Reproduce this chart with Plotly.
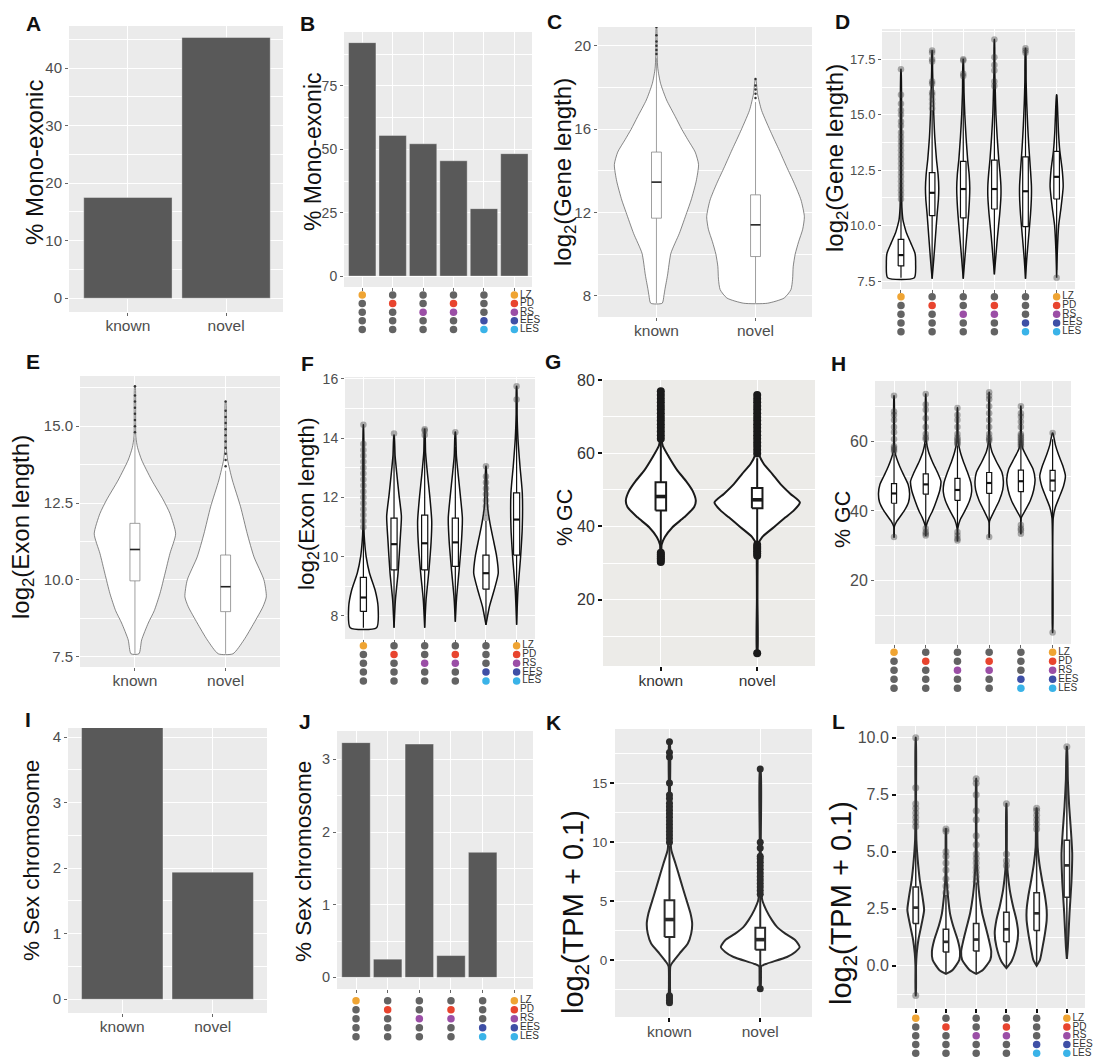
import plotly.graph_objects as go

FIG_W, FIG_H = 1096, 1059
# the photographed page shows the figure area from y=8 to the bottom edge;
# map target pixel positions through this so marks land where intended
Y_OFF = 8.0
Y_SCALE = (FIG_H - Y_OFF) / FIG_H
FONT = "Liberation Sans, Arial, Helvetica, sans-serif"
BG = "#EBEBEB"
BAR = "#595959"
TXT = "#4D4D4D"

# ---------------- data ----------------
groups2 = ["known", "novel"]
stage_labels = ["LZ", "PD", "RS", "EES", "LES"]
stage_colors = ["#EFA433", "#E8442E", "#9B4EA6", "#3E4FA6", "#3AB3E8"]
dot_gray = "#636363"
combo_stages = [[0], [1], [2], [1, 2], [3, 4], [0, 1, 2, 3, 4]]

A_mono = [17.5, 45.3]
B_mono = [92.1, 55.5, 52.2, 45.5, 26.6, 48.3]
I_sex = [4.15, 1.94]
J_sex = [3.23, 0.25, 3.21, 0.30, 1.72, 0.0]

# C: log2(Gene length) known / novel
C_vy = [[7.65, 8.0, 8.3, 9.0, 10.05, 11.0, 12.0, 12.6, 13.5, 14.3, 14.9, 15.5, 16.0, 16.6, 17.4, 18.2, 18.9, 19.5, 20.9],
        [7.65, 7.9, 8.3, 8.8, 9.4, 10.0, 10.6, 11.2, 11.8, 12.6, 13.4, 14.2, 15.0, 15.8, 16.9, 17.7, 18.4]]
C_vw = [[0.058, 0.075, 0.085, 0.112, 0.146, 0.231, 0.306, 0.35, 0.401, 0.425, 0.391, 0.316, 0.255, 0.19, 0.102, 0.041, 0.014, 0.007, 0.002],
        [0.119, 0.289, 0.357, 0.374, 0.38, 0.40, 0.435, 0.476, 0.493, 0.459, 0.391, 0.313, 0.238, 0.16, 0.061, 0.02, 0.003]]
C_q1 = [11.73, 9.89]
C_med = [13.46, 11.41]
C_q3 = [14.9, 12.85]
C_lo = [7.65, 7.65]
C_hi = [19.4, 17.3]
C_out = [[19.6, 19.8, 20.0, 20.2, 20.5, 20.9], [17.5, 17.7, 17.9, 18.1, 18.4]]

# D: log2(Gene length) by stage combination
D_vy = [[7.65, 8.3, 8.75, 9.2, 9.65, 10.0, 10.25, 10.8, 12.0, 17.05],
        [7.6, 8.5, 9.5, 10.5, 11.2, 11.7, 12.3, 13.0, 14.0, 15.0, 16.0, 17.0, 17.9],
        [7.6, 8.5, 9.5, 10.5, 11.2, 11.7, 12.3, 13.0, 14.0, 15.0, 16.0, 17.5],
        [7.8, 8.5, 9.5, 10.5, 11.3, 11.8, 12.4, 13.0, 14.0, 15.0, 16.0, 17.0, 18.4],
        [7.6, 8.5, 9.5, 10.5, 11.3, 11.8, 12.5, 13.5, 14.5, 15.5, 16.5, 18.0],
        [7.65, 8.75, 10.0, 10.8, 11.75, 12.5, 13.4, 14.2, 14.9, 15.9]]
D_vw = [[0.43, 0.47, 0.45, 0.32, 0.18, 0.107, 0.064, 0.03, 0.015, 0.004],
        [0.0, 0.053, 0.107, 0.16, 0.203, 0.214, 0.192, 0.139, 0.085, 0.053, 0.032, 0.015, 0.004],
        [0.0, 0.05, 0.11, 0.17, 0.2, 0.21, 0.19, 0.14, 0.09, 0.05, 0.025, 0.004],
        [0.0, 0.04, 0.1, 0.17, 0.21, 0.21, 0.18, 0.14, 0.09, 0.05, 0.03, 0.012, 0.004],
        [0.0, 0.04, 0.1, 0.16, 0.19, 0.19, 0.16, 0.11, 0.07, 0.04, 0.02, 0.004],
        [0.0, 0.02, 0.065, 0.14, 0.21, 0.18, 0.1, 0.06, 0.04, 0.004]]
D_q1 = [8.18, 10.45, 10.35, 10.75, 9.95, 11.2]
D_med = [8.67, 11.48, 11.65, 11.65, 11.55, 12.2]
D_q3 = [9.38, 12.39, 12.9, 12.95, 13.1, 13.35]
D_lo = [7.65, 7.6, 7.6, 7.8, 7.6, 8.0]
D_hi = [11.0, 15.2, 16.7, 16.2, 17.8, 15.9]
D_out = [[11.2, 11.4, 11.6, 11.8, 12.0, 12.2, 12.4, 12.6, 12.8, 13.0, 13.2, 13.4, 13.6, 13.8, 14.0, 14.2, 14.5, 14.7, 15.0, 15.2, 15.5, 15.9, 17.05],
         [15.3, 15.5, 15.7, 15.9, 16.0, 16.4, 16.5, 17.4, 17.5, 17.8, 17.9],
         [16.75, 16.85, 17.45, 17.5],
         [16.3, 16.5, 17.0, 17.25, 17.6, 18.4],
         [17.8, 17.9, 18.0],
         [7.65]]

# E: log2(Exon length) known / novel
E_vy = [[7.6, 8.05, 8.6, 9.0, 9.56, 10.2, 10.86, 11.5, 12.16, 12.6, 13.25, 13.9, 14.3, 14.65, 16.3],
        [7.6, 8.05, 8.6, 9.13, 9.45, 10.0, 10.75, 11.5, 12.38, 13.25, 13.9, 14.3, 15.8]]
E_vw = [[0.044, 0.074, 0.147, 0.213, 0.276, 0.331, 0.386, 0.449, 0.386, 0.313, 0.184, 0.074, 0.029, 0.01, 0.003],
        [0.081, 0.202, 0.313, 0.412, 0.449, 0.423, 0.313, 0.239, 0.165, 0.074, 0.022, 0.008, 0.003]]
E_q1 = [9.97, 8.97]
E_med = [10.99, 9.78]
E_q3 = [11.84, 10.81]
E_lo = [7.6, 7.6]
E_hi = [14.6, 13.55]
E_out = [[14.8, 15.0, 15.2, 15.4, 15.6, 15.8, 16.0, 16.3],
         [13.7, 13.9, 14.1, 14.3, 14.5, 14.7, 14.9, 15.1, 15.3, 15.5, 15.8]]

# F: log2(Exon length) by stage combination
F_vy = [[7.6, 8.3, 8.88, 9.44, 10.0, 10.5, 11.0, 14.45],
        [7.6, 8.54, 9.44, 10.57, 11.36, 12.1, 12.8, 13.4, 14.1],
        [7.6, 8.54, 9.44, 10.5, 11.2, 12.0, 12.8, 13.5, 14.3],
        [7.8, 8.6, 9.5, 10.5, 11.3, 12.0, 12.8, 13.4, 14.2],
        [7.7, 7.87, 8.3, 8.88, 9.44, 10.0, 10.57, 11.13, 11.7, 13.05],
        [7.7, 8.88, 10.0, 11.0, 12.15, 13.05, 13.95, 14.8, 15.75]]
F_vw = [[0.43, 0.48, 0.38, 0.2, 0.09, 0.04, 0.015, 0.004],
        [0.0, 0.045, 0.13, 0.2, 0.24, 0.16, 0.09, 0.035, 0.005],
        [0.0, 0.045, 0.13, 0.21, 0.23, 0.17, 0.09, 0.03, 0.005],
        [0.0, 0.04, 0.12, 0.2, 0.23, 0.17, 0.09, 0.035, 0.005],
        [0.0, 0.03, 0.11, 0.27, 0.4, 0.35, 0.24, 0.13, 0.05, 0.005],
        [0.0, 0.045, 0.13, 0.185, 0.185, 0.11, 0.045, 0.015, 0.005]]
F_q1 = [8.15, 9.55, 9.55, 9.67, 8.9, 10.05]
F_med = [8.62, 10.42, 10.45, 10.48, 9.44, 11.25]
F_q3 = [9.3, 11.3, 11.4, 11.3, 10.05, 12.15]
F_lo = [7.6, 7.6, 7.6, 7.8, 7.7, 7.7]
F_hi = [10.9, 13.9, 14.0, 13.7, 11.2, 15.2]
F_out = [[11.0, 11.2, 11.4, 11.6, 11.8, 12.0, 12.2, 12.4, 12.6, 12.8, 13.0, 13.2, 13.4, 13.6, 13.8, 14.45],
         [14.15], [14.1, 14.25, 14.3], [14.2],
         [11.3, 11.5, 11.7, 11.9, 12.1, 12.3, 12.5, 12.7, 13.05],
         [15.3, 15.75]]

# G: % GC known / novel
G_vy = [[30.5, 33.0, 35.0, 37.1, 39.8, 42.5, 45.3, 47.1, 49.8, 52.5, 55.3, 58.9, 62.1, 64.0, 70.0, 77.0],
        [5.3, 20.0, 33.0, 35.0, 37.1, 39.8, 42.5, 44.4, 46.6, 48.9, 51.6, 54.4, 57.1, 59.8, 61.0, 68.0, 76.0]]
G_vw = [[0.004, 0.006, 0.008, 0.042, 0.121, 0.242, 0.346, 0.363, 0.329, 0.26, 0.173, 0.087, 0.02, 0.008, 0.005, 0.003],
        [0.003, 0.003, 0.005, 0.008, 0.052, 0.173, 0.294, 0.381, 0.443, 0.346, 0.242, 0.156, 0.069, 0.017, 0.008, 0.005, 0.003]]
G_q1 = [44.4, 45.0]
G_med = [48.2, 47.3]
G_q3 = [52.1, 50.5]
G_lo = [33.5, 35.5]
G_hi = [63.5, 58.7]
G_out = [[30.3, 30.8, 31.3, 31.8, 32.3, 32.8, 64, 65, 66, 67, 68, 69, 70, 71, 72, 73, 74, 75, 76, 77],
         [5.3, 32.0, 32.6, 33.2, 33.8, 34.4, 35.0, 60, 61, 62, 63, 64, 65, 66, 67, 68, 69, 70, 71, 72, 73, 74, 75, 76]]

# H: % GC by stage combination
H_vy = [[32.5, 35.5, 37, 40, 42.5, 45, 47.5, 50, 52.5, 55, 57, 60, 73],
        [33, 35.5, 38, 40, 43, 46, 48.5, 51, 54, 57, 60, 73.5],
        [31.5, 35, 37.5, 40, 43, 45.5, 48, 51, 54, 57, 60, 69.5],
        [32.5, 37, 40, 43, 46, 48.5, 51, 54, 57, 60, 74],
        [33.5, 38, 40, 43, 46, 49, 52, 55, 58, 61, 70],
        [5.2, 30, 38, 41, 44, 47, 50, 53, 56, 59, 62.3]]
H_vw = [[0.004, 0.01, 0.085, 0.319, 0.457, 0.49, 0.447, 0.319, 0.191, 0.085, 0.025, 0.01, 0.004],
        [0.004, 0.01, 0.106, 0.213, 0.34, 0.447, 0.479, 0.372, 0.213, 0.085, 0.021, 0.004],
        [0.004, 0.01, 0.085, 0.234, 0.383, 0.447, 0.426, 0.319, 0.191, 0.085, 0.021, 0.004],
        [0.004, 0.01, 0.16, 0.319, 0.426, 0.447, 0.404, 0.234, 0.085, 0.021, 0.004],
        [0.004, 0.01, 0.128, 0.298, 0.404, 0.447, 0.383, 0.213, 0.053, 0.015, 0.004],
        [0.004, 0.005, 0.02, 0.085, 0.213, 0.34, 0.404, 0.319, 0.191, 0.085, 0.008]]
H_q1 = [42.2, 44.8, 43.0, 45.0, 45.5, 45.7]
H_med = [45.0, 47.6, 46.0, 48.0, 48.5, 48.7]
H_q3 = [47.8, 50.6, 49.3, 51.0, 51.7, 51.6]
H_lo = [35.5, 36.0, 34.5, 37.0, 37.0, 38.0]
H_hi = [56.2, 59.3, 58.7, 59.5, 60.5, 60.5]
H_out = [[32.5, 57, 57.5, 58, 58.5, 60.5, 62.5, 64, 66, 67.5, 68.5, 73],
         [33, 33.5, 34, 35, 60.5, 61, 62, 64, 66.5, 69, 70.5, 73.5],
         [31.5, 32, 33, 34, 59, 59.5, 60, 60.5, 61, 62, 64, 66, 67.5, 69.5],
         [32.5, 60, 60.5, 61, 62, 64, 66, 68, 70, 72, 73, 74],
         [33.5, 34.5, 35, 36, 58.5, 59, 59.5, 60, 60.5, 61, 61.5, 62, 64, 65.5, 67, 68, 70],
         [5.2, 62.3]]

# K: log2(TPM + 0.1) known / novel
K_vy = [[-3.6, -2.0, -0.5, -0.14, 0.57, 1.42, 2.26, 3.11, 3.96, 5.38, 6.79, 8.2, 9.34, 10.5, 14.0, 18.5],
        [-2.4, -1.0, -0.5, -0.28, 0.28, 0.71, 1.13, 1.7, 2.26, 2.83, 3.4, 4.25, 5.1, 6.0, 10.0, 16.2]]
K_vw = [[0.004, 0.006, 0.01, 0.037, 0.11, 0.202, 0.239, 0.25, 0.232, 0.176, 0.121, 0.066, 0.02, 0.01, 0.006, 0.004],
        [0.004, 0.008, 0.012, 0.074, 0.294, 0.386, 0.434, 0.386, 0.276, 0.184, 0.129, 0.066, 0.022, 0.01, 0.006, 0.004]]
K_q1 = [1.98, 0.9]
K_med = [3.45, 1.75]
K_q3 = [5.09, 2.75]
K_lo = [-2.7, -1.5]
K_hi = [9.7, 5.5]
K_out = [[-3.0, -3.2, -3.4, -3.6, 10.0, 10.3, 10.6, 10.9, 11.2, 11.5, 11.8, 12.1, 12.4, 12.7, 13.0, 13.3, 13.7, 14.0, 15.0, 17.2, 17.6, 18.5],
         [-2.4, 5.6, 5.9, 6.2, 6.5, 6.8, 7.1, 7.4, 7.7, 8.0, 8.3, 8.6, 8.8, 9.5, 10.0, 16.2]]

# L: log2(TPM + 0.1) by stage combination
L_vy = [[-1.3, 0.0, 0.55, 1.14, 2.0, 2.45, 3.04, 3.77, 4.64, 5.5, 7.0, 10.0],
        [-0.35, -0.18, 0.26, 0.63, 1.14, 1.72, 2.3, 3.04, 3.77, 4.5, 6.0],
        [-0.35, -0.18, 0.26, 0.63, 1.14, 1.72, 2.3, 3.04, 3.77, 4.5, 6.0, 8.2],
        [-0.1, 0.19, 0.85, 1.43, 2.0, 2.6, 3.33, 4.06, 4.6, 7.1],
        [0.0, 0.26, 0.85, 1.43, 2.0, 2.45, 3.04, 3.77, 4.5, 5.2, 6.9],
        [0.3, 0.85, 2.3, 3.77, 4.93, 5.96, 6.98, 8.15, 9.6]]
L_vw = [[0.004, 0.01, 0.033, 0.088, 0.221, 0.277, 0.221, 0.133, 0.066, 0.022, 0.01, 0.004],
        [0.0, 0.221, 0.442, 0.465, 0.387, 0.243, 0.133, 0.066, 0.022, 0.01, 0.004],
        [0.0, 0.221, 0.465, 0.498, 0.42, 0.31, 0.2, 0.11, 0.055, 0.022, 0.01, 0.004],
        [0.0, 0.166, 0.332, 0.387, 0.332, 0.221, 0.11, 0.044, 0.015, 0.004],
        [0.0, 0.11, 0.2, 0.277, 0.332, 0.332, 0.277, 0.177, 0.088, 0.033, 0.006],
        [0.0, 0.033, 0.088, 0.155, 0.177, 0.133, 0.077, 0.033, 0.005]]
L_q1 = [1.85, 0.6, 0.65, 1.05, 1.55, 3.0]
L_med = [2.55, 1.05, 1.15, 1.6, 2.3, 4.4]
L_q3 = [3.45, 1.6, 1.85, 2.35, 3.2, 5.5]
L_lo = [-0.5, -0.35, -0.35, -0.1, 0.0, 0.3]
L_hi = [5.85, 3.1, 3.65, 4.3, 5.67, 9.0]
L_out = [[-1.3, 6.1, 6.3, 6.5, 6.7, 6.9, 7.1, 7.8, 10.0],
         [3.2, 3.5, 3.8, 4.2, 4.5, 4.8, 5.0, 5.9, 6.0],
         [3.7, 3.9, 4.1, 4.3, 4.5, 4.7, 4.9, 5.3, 5.7, 6.4, 6.8, 7.5, 8.0, 8.2],
         [4.4, 4.6, 4.9, 7.1],
         [6.0, 6.2, 6.4, 6.6, 6.8, 6.9],
         [9.6]]

# ---------------- figure helpers ----------------
fig = go.Figure()
_axn = [0]


def _clamp(v):
    return min(1.0, max(0.0, v))


def fy(y):
    """target page pixel row -> figure pixel row"""
    return (y - Y_OFF) / Y_SCALE


def px_dom_x(a, b):
    return [_clamp(a / FIG_W), _clamp(b / FIG_W)]


def px_dom_y(top, bottom):
    return [_clamp(1 - fy(bottom) / FIG_H), _clamp(1 - fy(top) / FIG_H)]


def make_axes(box, xrange, yrange, ncat, xlabels, ydtick, yminor, ytickfmt="",
              tickfont=14, xtickfont=15, tickcolor="#666", ticklen=3, tickwidth=1,
              labelcolor=TXT, bg=BG, show=True):
    _axn[0] += 1
    n = _axn[0]
    xa = "xaxis" if n == 1 else f"xaxis{n}"
    ya = "yaxis" if n == 1 else f"yaxis{n}"
    xr = "x" if n == 1 else f"x{n}"
    yr = "y" if n == 1 else f"y{n}"
    x0, y0, x1, y1 = box
    if not show:
        fig.update_layout(**{
            xa: dict(domain=px_dom_x(x0, x1), range=xrange, anchor=yr, visible=False, fixedrange=True),
            ya: dict(domain=px_dom_y(y0, y1), range=yrange, anchor=xr, visible=False, fixedrange=True),
        })
        return xr, yr
    xdict = dict(domain=px_dom_x(x0, x1), range=xrange, anchor=yr,
                 tickmode="array", tickvals=list(range(ncat)),
                 showgrid=True, gridcolor="white", gridwidth=1.1, zeroline=False,
                 ticks="outside", ticklen=ticklen, tickwidth=tickwidth, tickcolor=tickcolor,
                 showline=False, fixedrange=True)
    if xlabels:
        xdict.update(ticktext=xlabels, showticklabels=True, ticklabelstandoff=-4,
                     tickfont=dict(family=FONT, size=xtickfont, color=labelcolor))
    else:
        xdict.update(showticklabels=False)
    fig.update_layout(**{
        xa: xdict,
        ya: dict(domain=px_dom_y(y0, y1), range=yrange, anchor=xr,
                 tick0=0, dtick=ydtick, tickformat=ytickfmt,
                 showgrid=True, gridcolor="white", gridwidth=1.1, zeroline=False,
                 minor=dict(tick0=0, dtick=yminor, showgrid=True, gridcolor="white", gridwidth=0.5),
                 ticks="outside", ticklen=ticklen, tickwidth=tickwidth, tickcolor=tickcolor,
                 tickfont=dict(family=FONT, size=tickfont, color=labelcolor),
                 showline=False, fixedrange=True),
    })
    fig.add_shape(type="rect", xref=f"{xr} domain", yref=f"{yr} domain",
                  x0=0, x1=1, y0=0, y1=1, fillcolor=bg, line_width=0, layer="below")
    return xr, yr


def add_bars(xr, yr, vals):
    fig.add_trace(go.Bar(x=list(range(len(vals))), y=vals, width=0.9, xaxis=xr, yaxis=yr,
                         marker=dict(color=BAR, line=dict(color="rgba(255,255,255,0.6)", width=0.6)),
                         showlegend=False, hoverinfo="skip"))


def add_violins(xr, yr, vys, vws, color, lw):
    for i, (ys, ws) in enumerate(zip(vys, vws)):
        xs = [i + w for w in ws] + [i - w for w in reversed(ws)]
        yy = list(ys) + list(reversed(ys))
        xs.append(xs[0])
        yy.append(yy[0])
        fig.add_trace(go.Scatter(x=xs, y=yy, xaxis=xr, yaxis=yr, mode="lines", fill="toself",
                                 fillcolor="white", line=dict(color=color, width=lw, shape="spline", smoothing=0.6),
                                 showlegend=False, hoverinfo="skip"))


def add_boxes(xr, yr, q1, med, q3, lo, hi, width, color, lw, med_color=None, med_lw=None):
    hw = width / 2
    wx, wy, bx, by, mx, my = [], [], [], [], [], []
    for i in range(len(q1)):
        wx += [i, i, None, i, i, None]
        wy += [lo[i], q1[i], None, q3[i], hi[i], None]
        bx += [i - hw, i + hw, i + hw, i - hw, i - hw, None]
        by += [q1[i], q1[i], q3[i], q3[i], q1[i], None]
        mx += [i - hw, i + hw, None]
        my += [med[i], med[i], None]
    fig.add_trace(go.Scatter(x=wx, y=wy, mode="lines", line=dict(color=color, width=lw),
                             xaxis=xr, yaxis=yr, showlegend=False, hoverinfo="skip"))
    fig.add_trace(go.Scatter(x=bx, y=by, mode="lines", fill="toself", fillcolor="white",
                             line=dict(color=color, width=lw),
                             xaxis=xr, yaxis=yr, showlegend=False, hoverinfo="skip"))
    fig.add_trace(go.Scatter(x=mx, y=my, mode="lines",
                             line=dict(color=med_color or color, width=med_lw or lw * 1.8),
                             xaxis=xr, yaxis=yr, showlegend=False, hoverinfo="skip"))


def add_outliers(xr, yr, outs, color, size):
    xs, ys = [], []
    for i, o in enumerate(outs):
        xs += [i] * len(o)
        ys += list(o)
    fig.add_trace(go.Scatter(x=xs, y=ys, mode="markers", xaxis=xr, yaxis=yr,
                             marker=dict(color=color, size=size, line=dict(width=0)),
                             showlegend=False, hoverinfo="skip"))


def add_matrix(x0, x1, xrange, row0, step):
    top = row0 - 0.6 * step
    bottom = row0 + 4 * step + 0.6 * step
    xr, yr = make_axes((x0, top, x1, bottom), xrange, [4.6, -0.6], 6, None, 1, 1, show=False)
    for c, stages in enumerate(combo_stages):
        cols = [stage_colors[r] if r in stages else dot_gray for r in range(5)]
        last = c == len(combo_stages) - 1
        if last:
            fig.add_trace(go.Scatter(x=[c] * 5, y=list(range(5)), xaxis=xr, yaxis=yr,
                                     mode="markers+text", text=stage_labels,
                                     textposition="middle right",
                                     textfont=dict(family=FONT, size=10, color="#333"),
                                     marker=dict(color=cols, size=7.5, line=dict(width=0)),
                                     showlegend=False, hoverinfo="skip", cliponaxis=False))
        else:
            fig.add_trace(go.Scatter(x=[c] * 5, y=list(range(5)), xaxis=xr, yaxis=yr,
                                     mode="markers",
                                     marker=dict(color=cols, size=7.5, line=dict(width=0)),
                                     showlegend=False, hoverinfo="skip", cliponaxis=False))


def y_title(text, cx, cy, size):
    fig.add_annotation(text=text, x=cx / FIG_W, y=1 - fy(cy) / FIG_H, xref="paper", yref="paper",
                       textangle=-90, showarrow=False, xanchor="center", yanchor="middle",
                       font=dict(family=FONT, size=size, color="#111"))


def letter(t, cx, cy):
    fig.add_annotation(text=f"<b>{t}</b>", x=cx / FIG_W, y=1 - fy(cy) / FIG_H, xref="paper", yref="paper",
                       showarrow=False, xanchor="center", yanchor="middle",
                       font=dict(family=FONT, size=21, color="#111"))


# ---------------- panels ----------------
# A
xr, yr = make_axes((69, 26, 283, 312), [-0.6, 1.58], [-2.4, 47.3], 2, groups2, 10, 5,
                   tickfont=15, xtickfont=15.5)
add_bars(xr, yr, A_mono)
y_title("% Mono-exonic", 35, 163, 24)
letter("A", 33, 24)

# B
xr, yr = make_axes((344, 32, 532, 287), [-0.6, 5.58], [-4.3, 96.3], 6, None, 25, 12.5,
                   tickfont=14)
add_bars(xr, yr, B_mono)
add_matrix(344, 532, [-0.6, 5.58], 295, 8.6)
y_title("% Mono-exonic", 313, 152, 23)
letter("B", 307, 24)

# C
xr, yr = make_axes((598, 27, 812, 317), [-0.59, 1.57], [6.99, 20.9], 2, groups2, 4, 2,
                   tickfont=15, xtickfont=15.5)
add_violins(xr, yr, C_vy, C_vw, "#555", 0.7)
add_boxes(xr, yr, C_q1, C_med, C_q3, C_lo, C_hi, 0.1, "#777", 0.7, "#222", 1.6)
add_outliers(xr, yr, C_out, "#333", 2.5)
y_title("log<sub>2</sub>(Gene length)", 565, 172, 24)
letter("C", 554, 22)

# D
xr, yr = make_axes((882, 29, 1075, 289), [-0.61, 5.59], [7.14, 18.87], 6, None, 2.5, 1.25,
                   ytickfmt=".1f", tickfont=13)
add_violins(xr, yr, D_vy, D_vw, "#111", 1.5)
add_boxes(xr, yr, D_q1, D_med, D_q3, D_lo, D_hi, 0.18, "#111", 1.2)
add_outliers(xr, yr, D_out, "rgba(60,60,60,0.4)", 6.5)
add_matrix(882, 1075, [-0.61, 5.59], 296.7, 8.75)
y_title("log<sub>2</sub>(Gene length)", 837, 158, 24)
letter("D", 842, 22)

# E
xr, yr = make_axes((80, 376, 280, 667), [-0.606, 1.6], [7.17, 16.63], 2, groups2, 2.5, 1.25,
                   ytickfmt=".1f", tickfont=15, xtickfont=15.5)
add_violins(xr, yr, E_vy, E_vw, "#555", 0.7)
add_boxes(xr, yr, E_q1, E_med, E_q3, E_lo, E_hi, 0.11, "#777", 0.7, "#222", 1.6)
add_outliers(xr, yr, E_out, "#333", 2.5)
y_title("log<sub>2</sub>(Exon length)", 22, 527, 24)
letter("E", 33, 362)

# F
xr, yr = make_axes((345, 377, 535, 639), [-0.6, 5.6], [7.22, 16.06], 6, None, 2, 1,
                   tickfont=14)
add_violins(xr, yr, F_vy, F_vw, "#111", 1.5)
add_boxes(xr, yr, F_q1, F_med, F_q3, F_lo, F_hi, 0.2, "#111", 1.2)
add_outliers(xr, yr, F_out, "rgba(60,60,60,0.4)", 6.5)
add_matrix(345, 535, [-0.6, 5.6], 645.7, 8.8)
y_title("log<sub>2</sub>(Exon length)", 308, 504, 22.5)
letter("F", 307, 363)

# G
xr, yr = make_axes((603, 380, 815, 666), [-0.6, 1.6], [1.8, 80.1], 2, groups2, 20, 10,
                   tickfont=16, xtickfont=15.5, tickcolor="#111", ticklen=4, tickwidth=2,
                   labelcolor="#333", bg="#ECEBE8")
add_violins(xr, yr, G_vy, G_vw, "#1a1a1a", 2)
add_boxes(xr, yr, G_q1, G_med, G_q3, G_lo, G_hi, 0.11, "#1a1a1a", 2)
add_outliers(xr, yr, G_out, "#1a1a1a", 8)
y_title("% GC", 565, 518, 21.5)
letter("G", 553, 362)

# H
xr, yr = make_axes((875, 381, 1071, 644), [-0.6, 5.58], [1.9, 77.2], 6, None, 20, 10,
                   tickfont=16)
add_violins(xr, yr, H_vy, H_vw, "#111", 1.5)
add_boxes(xr, yr, H_q1, H_med, H_q3, H_lo, H_hi, 0.16, "#111", 1.2)
add_outliers(xr, yr, H_out, "rgba(60,60,60,0.4)", 6.5)
add_matrix(875, 1071, [-0.6, 5.58], 652.3, 9.0)
y_title("% GC", 843, 520, 21.5)
letter("H", 838, 363)

# I
xr, yr = make_axes((68, 728, 267, 1013), [-0.6, 1.6], [-0.21, 4.14], 2, groups2, 1, 0.5,
                   tickfont=15, xtickfont=15.5)
add_bars(xr, yr, I_sex)
y_title("% Sex chromosome", 32, 861, 22.5)
letter("I", 28, 720)

# J
xr, yr = make_axes((337, 731, 533, 989), [-0.6, 5.59], [-0.16, 3.39], 6, None, 1, 0.5,
                   tickfont=14.5)
add_bars(xr, yr, J_sex)
add_matrix(337, 533, [-0.6, 5.59], 1000.7, 9.0)
y_title("% Sex chromosome", 303, 862, 22.5)
letter("J", 305, 721)

# K
xr, yr = make_axes((615, 729, 812, 1017), [-0.6, 1.57], [-4.8, 19.58], 2, groups2, 5, 2.5,
                   tickfont=13.5, xtickfont=15.5, tickcolor="#111", ticklen=4, tickwidth=2)
add_violins(xr, yr, K_vy, K_vw, "#2b2b2b", 2)
add_boxes(xr, yr, K_q1, K_med, K_q3, K_lo, K_hi, 0.107, "#2b2b2b", 2)
add_outliers(xr, yr, K_out, "#2b2b2b", 7)
y_title("log<sub>2</sub>(TPM + 0.1)", 575, 912, 29)
letter("K", 553, 722)

# L
xr, yr = make_axes((897, 726, 1085, 1008), [-0.62, 5.6], [-1.85, 10.51], 6, None, 2.5, 1.25,
                   ytickfmt=".1f", tickfont=16, tickcolor="#111", ticklen=4, tickwidth=2)
add_violins(xr, yr, L_vy, L_vw, "#2b2b2b", 2)
add_boxes(xr, yr, L_q1, L_med, L_q3, L_lo, L_hi, 0.18, "#2b2b2b", 1.5)
add_outliers(xr, yr, L_out, "rgba(60,60,60,0.4)", 7)
add_matrix(897, 1085, [-0.62, 5.6], 1018.3, 8.75)
y_title("log<sub>2</sub>(TPM + 0.1)", 843, 903, 29)
letter("L", 838, 721)

fig.update_layout(width=FIG_W, height=FIG_H, margin=dict(l=0, r=0, t=0, b=0),
                  paper_bgcolor="white", plot_bgcolor="rgba(0,0,0,0)",
                  showlegend=False, hovermode=False, font=dict(family=FONT))

POST = ("document.body.style.margin='0px';"
        "var d=document.getElementById('{plot_id}');"
        "d.style.position='absolute';d.style.top='0px';d.style.left='0px';")
fig.write_html("out.html", config={"displayModeBar": False}, post_script=POST)
